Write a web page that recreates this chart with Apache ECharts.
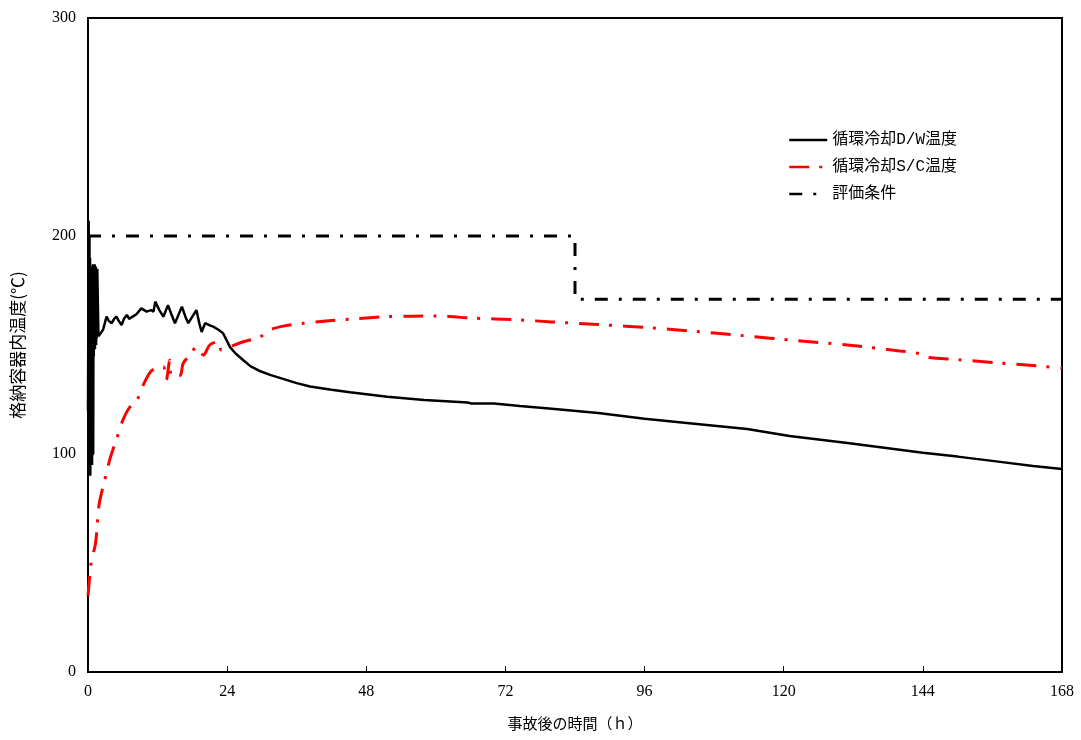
<!DOCTYPE html>
<html><head><meta charset="utf-8">
<script src="https://cdn.jsdelivr.net/npm/echarts@6/dist/echarts.min.js"></script>
<style>html,body{margin:0;padding:0;background:#fff}#c{width:1081px;height:740px}</style>
</head><body><div id="c"></div>
<script>
// time (h), temperature (°C)
const dwTime = [0,0.12,0.2,0.25,0.3,0.35,0.4,0.45,0.5,0.55,0.6,0.65,0.7,0.75,0.8,0.85,0.9,0.95,1.0,1.05,1.1,1.15,1.2,1.25,1.3,1.35,1.4,1.45,1.5,1.6,1.8,2.1,2.6,3.2,3.6,4.1,4.5,4.9,5.3,5.8,6.2,6.7,7.1,7.5,8.3,9.2,10.1,10.9,11.3,11.6,12.3,13.0,13.8,14.4,15.0,16.2,16.8,17.3,18.7,19.2,19.6,20.2,21.0,21.6,22.5,23.3,24.5,25.5,26.8,28,29.5,31.4,33.5,36,38.3,42,45.2,51.6,58,65.5,66,70,74.5,80,88,96,105,113.7,121,131,144,150,157,163,168];
const dwTemp = [120,207,110,200,95,190,90,182,100,178,120,186,95,184,140,187,100,186,145,186,150,187,148,186,152,186,150,185,153,185,154,153.8,157,163,161,160,162,163,161,159.2,162,163.8,162,162.7,164,166.8,165.3,166,165.3,169.9,166,163,168.3,164,160,167.6,163,160,166,160,156,160,159,158.4,157,155.4,149,146,143,140.3,138.2,136.3,134.6,132.5,131,129.5,128.3,126.3,124.8,123.6,123.2,123.2,122,120.8,118.8,116.2,113.8,111.5,108.3,105,100.6,98.8,96.5,94.5,93.1];

const scTime = [0,0.2,0.57,1.3,1.9,2.5,3.2,3.9,5.05,5.9,7.07,8.5,9.4,10.8,12,13.0,13.5,14.1,14.4,15.9,16.4,17.6,18.7,19.9,21.0,22.5,23.0,24.5,26.8,29.7,31.4,34,37.3,41,45.7,51.6,56,60.2,66,74.5,80,88,97.5,105,113,122.3,131,140,143.5,144.5,150,157,163,168];
const scTemp = [35,41,50.6,59,76.6,84,91.4,98.8,107.8,114.8,121,125,130.9,137.8,139.5,140,134,143,135.5,136,141.6,145.4,149.2,145.4,150,151.5,147.7,149.2,151.5,153.7,157,158.8,160,161,162,163,163.2,163.3,162.4,161.5,160.6,159.4,157.8,156.2,154.3,152,150,147.3,146,144.4,143.3,141.8,140.6,139.4];

const condTime = [0,84,84,168];
const condTemp = [200,200,171,171];

const xTicks = [0,24,48,72,96,120,144,168];
const yTicks = [0,100,200,300];

const seriesNames = ['循環冷却D/W温度','循環冷却S/C温度','評価条件'];

const zip = (a,b)=>a.map((v,i)=>[v,b[i]]);
const numFont = '"Liberation Serif","DejaVu Serif",serif';
const cjkFont = '"Liberation Mono","Noto Sans CJK JP",monospace';

const chart = echarts.init(document.getElementById('c'), null, {renderer:'canvas'});
chart.setOption({
  animation:false,
  backgroundColor:'#fff',
  grid:{left:88,right:19,top:18,bottom:68,show:true,borderColor:'#000',borderWidth:2,backgroundColor:'transparent'},
  legend:{
    orient:'vertical', left:783, top:127, itemWidth:38, itemHeight:14, itemGap:11,
    itemStyle:{opacity:0},
    lineStyle:{width:2.5},
    textStyle:{fontFamily:cjkFont,fontSize:16,color:'#000'},
    data:seriesNames
  },
  xAxis:{
    type:'value', min:0, max:168, interval:24,
    axisLine:{show:true,lineStyle:{color:'#000',width:2}},
    axisTick:{show:true,inside:true,length:6,lineStyle:{color:'#000',width:1}},
    axisLabel:{color:'#000',fontFamily:numFont,fontSize:16,margin:12,
      formatter:v=>xTicks.includes(v)?String(v):''},
    splitLine:{show:false},
    name:'事故後の時間（ｈ）', nameLocation:'middle', nameGap:44,
    nameTextStyle:{color:'#000',fontFamily:'"Noto Sans CJK JP",sans-serif',fontSize:15}
  },
  yAxis:{
    type:'value', min:0, max:300, interval:100,
    axisLine:{show:true,lineStyle:{color:'#000',width:2}},
    axisTick:{show:true,inside:true,length:6,lineStyle:{color:'#000',width:1}},
    axisLabel:{color:'#000',fontFamily:numFont,fontSize:16,margin:12,
      formatter:v=>yTicks.includes(v)?String(v):''},
    splitLine:{show:false},
    name:'格納容器内温度(℃)', nameLocation:'middle', nameGap:62, nameRotate:90,
    nameTextStyle:{color:'#000',fontFamily:'"Noto Sans CJK JP",sans-serif',fontSize:17}
  },
  series:[
    {name:seriesNames[0],type:'line',data:zip(dwTime,dwTemp),showSymbol:false,symbol:'none',
      lineStyle:{color:'#000',width:2.5},itemStyle:{color:'#000'}},
    {name:seriesNames[1],type:'line',data:zip(scTime,scTemp),showSymbol:false,symbol:'none',smooth:0.3,
      lineStyle:{color:'#ff0000',width:3,type:[20,10,3,11]},itemStyle:{color:'#ff0000'}},
    {name:seriesNames[2],type:'line',data:zip(condTime,condTemp),showSymbol:false,symbol:'none',
      lineStyle:{color:'#000',width:3,type:[13,11,3,11]},itemStyle:{color:'#000'}}
  ]
});
</script></body></html>
